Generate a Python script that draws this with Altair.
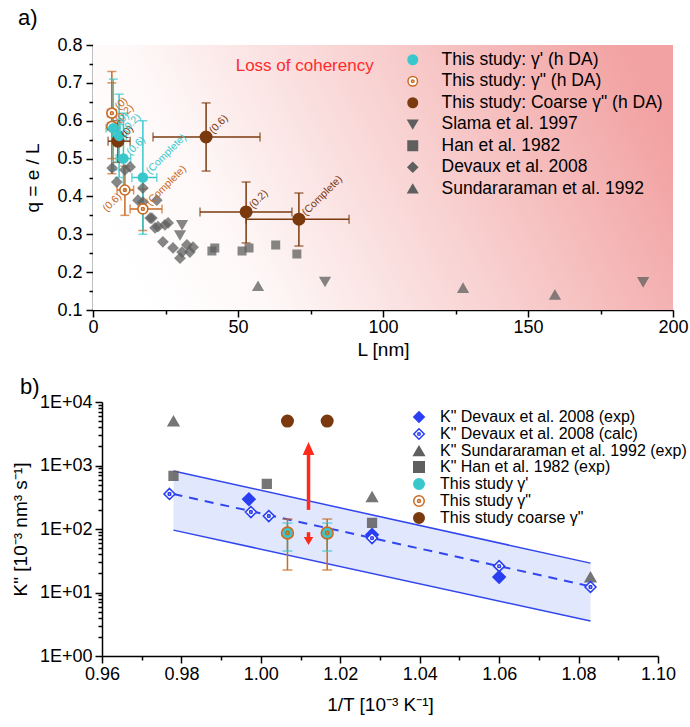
import altair as alt
import pandas as pd

FONT = "Liberation Sans"
TEAL = "#38c8cc"
ORANGE = "#c86a22"
BROWN = "#7a3a0e"
GRAY = "#5f5f5f"
BLUE = "#2a3ef2"
LINE_BLUE = "#3246ee"
RED = "#ff2a1a"

RING_DOT = "M1,0A1,1,0,1,1,-1,0A1,1,0,1,1,1,0Z M0.28,0A0.28,0.28,0,1,1,-0.28,0A0.28,0.28,0,1,1,0.28,0Z"
DIAMOND_DOT = "M0,-1L1,0L0,1L-1,0Z M0.25,0A0.25,0.25,0,1,1,-0.25,0A0.25,0.25,0,1,1,0.25,0Z"
HEAD_UP = "M0,0L-0.45,1L0.45,1Z"
HEAD_DOWN = "M0,0L-0.6,-1L0.6,-1Z"

# ---------------- Panel a data ----------------
teal_label = ["(0)", "(0.2)", "(0.6)", "(Complete)"]
teal_L = [7.0, 9.0, 10.5, 17.2]
teal_q = [0.58, 0.56, 0.50, 0.45]
teal_q_lo = [0.47, 0.45, 0.42, 0.30]
teal_q_hi = [0.71, 0.67, 0.62, 0.60]
teal_L_lo = [4.5, 6.5, 8.0, 13.4]
teal_L_hi = [9.5, 11.5, 13.0, 22.0]

orange_label = ["(0)", "(0.2)", "(0.6)", "(Complete)"]
orange_L = [6.5, 6.5, 11.0, 17.2]
orange_q = [0.62, 0.585, 0.417, 0.367]
orange_q_lo = [0.50, 0.46, 0.35, 0.31]
orange_q_hi = [0.73, 0.70, 0.48, 0.42]
orange_L_lo = [5.0, 5.0, 8.3, 12.8]
orange_L_hi = [8.0, 8.0, 14.0, 23.8]

brown_label = ["(0)", "(0.6)", "(0.2)", "(Complete)"]
brown_L = [8.6, 39.0, 52.8, 71.0]
brown_q = [0.546, 0.557, 0.359, 0.340]
brown_q_lo = [0.49, 0.467, 0.277, 0.269]
brown_q_hi = [0.60, 0.647, 0.438, 0.409]
brown_L_lo = [5.2, 20.7, 36.9, 52.8]
brown_L_hi = [12.8, 57.6, 68.6, 88.3]

slama_L = [30.7, 30.0, 80.0, 189.7]
slama_q = [0.325, 0.298, 0.175, 0.174]
han_L = [41.0, 42.0, 51.4, 53.8, 63.0, 70.3]
han_q = [0.256, 0.264, 0.256, 0.264, 0.272, 0.248]
devaux_L = [6.6, 8.2, 11.0, 12.8, 15.5, 17.2, 17.2, 19.7, 20.3, 21.4, 22.0, 22.4,
            24.8, 25.9, 24.1, 27.6, 30.0, 30.7, 32.4, 33.4, 34.5]
devaux_q = [0.475, 0.438, 0.47, 0.478, 0.39, 0.422, 0.385, 0.343, 0.343, 0.317, 0.39, 0.32,
            0.325, 0.33, 0.28, 0.264, 0.237, 0.253, 0.272, 0.253, 0.266]
sund_L = [56.9, 127.6, 159.3]
sund_q = [0.163, 0.158, 0.140]

A_X_DOMAIN = [0, 200]
A_Y_DOMAIN = [0.1, 0.8]
loss_text = ["Loss of coherency"]
loss_L = [73]
loss_q = [0.745]

# ---------------- Panel b data ----------------
dev_exp_x = [0.997, 1.028, 1.060]
dev_exp_y = [295, 81, 17.5]
dev_calc_x = [0.977, 0.9975, 1.002, 1.028, 1.060, 1.083]
dev_calc_y = [356, 185, 160, 72, 26, 12.2]
sundb_x = [0.978, 1.028, 1.083]
sundb_y = [5000, 319, 17.5]
hanb_x = [0.978, 1.0015, 1.028]
hanb_y = [684, 512, 124.5]
study_x = [1.0067, 1.0167]
gp_y = [86.5, 86.5]
gp_lo = [45, 45]
gp_hi = [124, 124]
gpp_y = [86.5, 86.5]
gpp_lo = [22.6, 22.6]
gpp_hi = [143.6, 143.6]
coarse_y = [5000, 5000]
band_x = [0.978, 1.083]
band_upper = [818, 29]
band_lower = [96, 3.55]
band_fit = [355, 12.5]
arrow_x = [1.012]
up_from, up_shaft_to, up_tip = [200], [1890], [2340]
down_from, down_shaft_to, down_tip = [89], [66], [56]

B_X_DOMAIN = [0.96, 1.10]
B_Y_DOMAIN = [1, 10000]

# ---------------- Panel a ----------------
A_NAMES = ["This study: γ' (h DA)", 'This study: γ" (h DA)', 'This study: Coarse γ" (h DA)',
           "Slama et al. 1997", "Han et al. 1982", "Devaux et al. 2008", "Sundararaman et al. 1992"]
A_SHAPES = ["circle", RING_DOT, "circle", "triangle-down", "square", "diamond", "triangle-up"]
A_FILLS = [TEAL, "white", BROWN, GRAY, GRAY, GRAY, GRAY]
A_STROKES = [TEAL, ORANGE, BROWN, GRAY, GRAY, GRAY, GRAY]
A_SIZE = dict(zip(A_NAMES, [80, 100, 130, 90, 55, 90, 90]))
A_OP = dict(zip(A_NAMES, [1, 1, 1, 0.75, 0.75, 0.75, 0.75]))


def pts(name, xs, ys, sizes, ops):
    return pd.DataFrame({"series": name, "x": xs, "y": ys, "sz": sizes[name], "op": ops[name]})


pts_a = pd.concat([
    pts(A_NAMES[3], slama_L, slama_q, A_SIZE, A_OP),
    pts(A_NAMES[4], han_L, han_q, A_SIZE, A_OP),
    pts(A_NAMES[5], devaux_L, devaux_q, A_SIZE, A_OP),
    pts(A_NAMES[6], sund_L, sund_q, A_SIZE, A_OP),
    pts(A_NAMES[2], brown_L, brown_q, A_SIZE, A_OP),
    pts(A_NAMES[1], orange_L, orange_q, A_SIZE, A_OP),
    pts(A_NAMES[0], teal_L, teal_q, A_SIZE, A_OP),
], ignore_index=True)


def errs(col, labels, xs, ys, xlo, xhi, ylo, yhi):
    return pd.DataFrame({"col": col, "label": labels, "x": xs, "y": ys, "xlo": xlo, "xhi": xhi,
                         "ylo": ylo, "yhi": yhi})


err_a = pd.concat([
    errs(BROWN, brown_label, brown_L, brown_q, brown_L_lo, brown_L_hi, brown_q_lo, brown_q_hi),
    errs(ORANGE, orange_label, orange_L, orange_q, orange_L_lo, orange_L_hi, orange_q_lo, orange_q_hi),
    errs(TEAL, teal_label, teal_L, teal_q, teal_L_lo, teal_L_hi, teal_q_lo, teal_q_hi),
], ignore_index=True)
err_a["side"] = "right"
err_a.loc[(err_a["col"] == ORANGE) & (err_a["label"] == "(0.6)"), "side"] = "left"

XS_A = alt.Scale(domain=A_X_DOMAIN, nice=False, zero=False)
YS_A = alt.Scale(domain=A_Y_DOMAIN, nice=False, zero=False)

axis_common = dict(grid=False, labelFontSize=18, titleFontSize=19, titleFontWeight="normal",
                   labelOverlap=False, labelFlush=False, domainColor="black", tickColor="black",
                   labelColor="black", titleColor="black", domainWidth=1.5, tickWidth=1.5)

AX_XA = alt.Axis(title="L [nm]", values=list(range(0, 201, 25)),
                 labelExpr="datum.value % 50 === 0 ? format(datum.value, 'd') : ''",
                 tickSize={"condition": {"test": "datum.value % 50 === 0", "value": 7}, "value": 4},
                 labelPadding=1, titlePadding=4, **axis_common)
AX_YA = alt.Axis(title="q = e / L", values=[round(0.1 + 0.05 * i, 2) for i in range(15)],
                 labelExpr="round(datum.value * 100) % 10 === 0 ? format(datum.value, '.1f') : ''",
                 tickSize={"condition": {"test": "round(datum.value * 100) % 10 === 0", "value": 7}, "value": 4},
                 labelPadding=4, titlePadding=14, **axis_common)


def XA(f):
    return alt.X(f"{f}:Q", scale=XS_A, axis=AX_XA)


def YA(f):
    return alt.Y(f"{f}:Q", scale=YS_A, axis=AX_YA)


bg_df = pd.DataFrame({"x0": [A_X_DOMAIN[0]], "x1": [A_X_DOMAIN[1]], "y0": [A_Y_DOMAIN[0]], "y1": [A_Y_DOMAIN[1]]})
grad = alt.Gradient(gradient="linear", x1=0, y1=0.62, x2=1, y2=0.38,
                    stops=[alt.GradientStop(color="#ffffff", offset=0),
                           alt.GradientStop(color="#fef8f8", offset=0.2),
                           alt.GradientStop(color="#f9d4d4", offset=0.55),
                           alt.GradientStop(color="#f2a2a2", offset=1)])
bg = alt.Chart(bg_df).mark_rect(fill=grad, strokeWidth=0).encode(
    x=XA("x0"), x2="x1", y=YA("y0"), y2="y1")

eb = alt.Chart(err_a)
col = alt.Color("col:N", scale=None)
a_vrule = eb.mark_rule(strokeWidth=1.5).encode(x=XA("x"), y=YA("ylo"), y2="yhi", color=col)
a_hrule = eb.mark_rule(strokeWidth=1.5).encode(x=XA("xlo"), x2="xhi", y=YA("y"), color=col)
a_cap_t = eb.mark_tick(orient="horizontal", size=9, thickness=1.5).encode(x=XA("x"), y=YA("yhi"), color=col)
a_cap_b = eb.mark_tick(orient="horizontal", size=9, thickness=1.5).encode(x=XA("x"), y=YA("ylo"), color=col)
a_cap_l = eb.mark_tick(orient="vertical", size=9, thickness=1.5).encode(x=XA("xlo"), y=YA("y"), color=col)
a_cap_r = eb.mark_tick(orient="vertical", size=9, thickness=1.5).encode(x=XA("xhi"), y=YA("y"), color=col)

legend_a = alt.Legend(title=None, orient="none", legendX=311, legendY=6, labelFontSize=17.5,
                      symbolSize=90, rowPadding=2.5, labelLimit=400, symbolStrokeWidth=1.5,
                      symbolOpacity=1, labelOffset=20, padding=0, labelColor="black")

a_points = alt.Chart(pts_a).mark_point(strokeWidth=1.6).encode(
    x=XA("x"), y=YA("y"),
    shape=alt.Shape("series:N", scale=alt.Scale(domain=A_NAMES, range=A_SHAPES), legend=legend_a),
    fill=alt.Fill("series:N", scale=alt.Scale(domain=A_NAMES, range=A_FILLS), legend=legend_a),
    stroke=alt.Stroke("series:N", scale=alt.Scale(domain=A_NAMES, range=A_STROKES), legend=legend_a),
    size=alt.Size("sz:Q", scale=None),
    opacity=alt.Opacity("op:Q", scale=None),
)

a_lab_r = eb.mark_text(angle=315, fontSize=10.5, align="left", baseline="middle", dx=7).encode(
    x=XA("x"), y=YA("y"), text="label:N", color=col).transform_filter(alt.datum.side == "right")
a_lab_l = eb.mark_text(angle=315, fontSize=10.5, align="right", baseline="middle", dx=-7).encode(
    x=XA("x"), y=YA("y"), text="label:N", color=col).transform_filter(alt.datum.side == "left")

loss = alt.Chart(pd.DataFrame({"x": loss_L, "y": loss_q, "t": loss_text})).mark_text(
    fontSize=17, color="#ff2b2b", align="center", baseline="middle").encode(x=XA("x"), y=YA("y"), text="t:N")

tag_a = alt.Chart(pd.DataFrame({"t": ["a)"]})).mark_text(
    fontSize=22, align="left", baseline="top", color="black").encode(
    text="t:N", x=alt.value(-75), y=alt.value(-37))

panel_a = alt.layer(bg, a_vrule, a_hrule, a_cap_t, a_cap_b, a_cap_l, a_cap_r, a_points,
                    a_lab_r, a_lab_l, loss, tag_a).properties(width=580, height=265)

# ---------------- Panel b ----------------
B_NAMES = ['K" Devaux et al. 2008 (exp)', 'K" Devaux et al. 2008 (calc)',
           'K" Sundararaman et al. 1992 (exp)', 'K" Han et al. 1982 (exp)',
           "This study γ'", 'This study γ"', 'This study coarse γ"']
B_SHAPES = ["diamond", DIAMOND_DOT, "triangle-up", "square", "circle", RING_DOT, "circle"]
B_FILLS = [BLUE, "white", GRAY, GRAY, TEAL, "transparent", BROWN]
B_STROKES = [BLUE, BLUE, GRAY, GRAY, TEAL, ORANGE, BROWN]
B_SIZE = dict(zip(B_NAMES, [150, 120, 110, 75, 85, 140, 130]))
B_OP = dict(zip(B_NAMES, [1, 1, 0.85, 0.85, 1, 1, 1]))

pts_b = pd.concat([
    pts(B_NAMES[2], sundb_x, sundb_y, B_SIZE, B_OP),
    pts(B_NAMES[3], hanb_x, hanb_y, B_SIZE, B_OP),
    pts(B_NAMES[0], dev_exp_x, dev_exp_y, B_SIZE, B_OP),
    pts(B_NAMES[1], dev_calc_x, dev_calc_y, B_SIZE, B_OP),
    pts(B_NAMES[4], study_x, gp_y, B_SIZE, B_OP),
    pts(B_NAMES[5], study_x, gpp_y, B_SIZE, B_OP),
    pts(B_NAMES[6], study_x, coarse_y, B_SIZE, B_OP),
], ignore_index=True)

XS_B = alt.Scale(domain=B_X_DOMAIN, nice=False, zero=False)
YS_B = alt.Scale(type="log", domain=B_Y_DOMAIN, nice=False)

LOG_TICKS = [m * 10 ** e for e in range(4) for m in range(1, 10)] + [10000]
AX_XB = alt.Axis(title="1/T [10⁻³ K⁻¹]", values=[round(0.96 + 0.01 * i, 2) for i in range(15)],
                 labelExpr="round(datum.value * 100) % 2 === 0 ? format(datum.value, '.2f') : ''",
                 tickSize={"condition": {"test": "round(datum.value * 100) % 2 === 0", "value": 7}, "value": 4},
                 labelPadding=2, titlePadding=12, **axis_common)
AX_YB = alt.Axis(title='K" [10⁻³ nm³ s⁻¹]', values=LOG_TICKS,
                 labelExpr="indexof([1,10,100,1000,10000], datum.value) >= 0 ? '1E+0' + format(log(datum.value) / LN10, '.0f') : ''",
                 tickSize={"condition": {"test": "indexof([1,10,100,1000,10000], datum.value) >= 0", "value": 7}, "value": 4},
                 labelPadding=3, titlePadding=9, **axis_common)


def XB(f):
    return alt.X(f"{f}:Q", scale=XS_B, axis=AX_XB)


def YB(f):
    return alt.Y(f"{f}:Q", scale=YS_B, axis=AX_YB)


band_df = pd.DataFrame({"x": band_x, "up": band_upper, "lo": band_lower, "fit": band_fit})
bb = alt.Chart(band_df)
b_area = bb.mark_area(color="#c9d3fb", opacity=0.55).encode(x=XB("x"), y=YB("up"), y2="lo")
b_up = bb.mark_line(color=LINE_BLUE, strokeWidth=1.5).encode(x=XB("x"), y=YB("up"))
b_lo = bb.mark_line(color=LINE_BLUE, strokeWidth=1.5).encode(x=XB("x"), y=YB("lo"))
b_fit = bb.mark_line(color=LINE_BLUE, strokeWidth=2, strokeDash=[9, 7]).encode(x=XB("x"), y=YB("fit"))

err_b = pd.DataFrame({"x": study_x, "gplo": gp_lo, "gphi": gp_hi, "gpplo": gpp_lo, "gpphi": gpp_hi})
ebb = alt.Chart(err_b)
b_teal_rule = ebb.mark_rule(color=TEAL, strokeWidth=1.5).encode(x=XB("x"), y=YB("gplo"), y2="gphi")
b_or_rule = ebb.mark_rule(color=ORANGE, strokeWidth=1.5).encode(x=XB("x"), y=YB("gpplo"), y2="gpphi")
b_or_cap1 = ebb.mark_tick(color=ORANGE, orient="horizontal", size=10, thickness=1.5).encode(x=XB("x"), y=YB("gpplo"))
b_or_cap2 = ebb.mark_tick(color=ORANGE, orient="horizontal", size=10, thickness=1.5).encode(x=XB("x"), y=YB("gpphi"))
b_te_cap1 = ebb.mark_tick(color=TEAL, orient="horizontal", size=10, thickness=1.5).encode(x=XB("x"), y=YB("gplo"))
b_te_cap2 = ebb.mark_tick(color=TEAL, orient="horizontal", size=10, thickness=1.5).encode(x=XB("x"), y=YB("gphi"))

arr_df = pd.DataFrame({"x": arrow_x, "uf": up_from, "ut": up_shaft_to, "utip": up_tip,
                       "df": down_from, "dt": down_shaft_to, "dtip": down_tip})
ab = alt.Chart(arr_df)
b_up_shaft = ab.mark_rule(color=RED, strokeWidth=3.5).encode(x=XB("x"), y=YB("uf"), y2="ut")
b_up_head = ab.mark_point(shape=HEAD_UP, size=676, filled=True, color=RED, opacity=1).encode(x=XB("x"), y=YB("utip"))
b_dn_shaft = ab.mark_rule(color=RED, strokeWidth=3.5).encode(x=XB("x"), y=YB("df"), y2="dt")
b_dn_head = ab.mark_point(shape=HEAD_DOWN, size=256, filled=True, color=RED, opacity=1).encode(x=XB("x"), y=YB("dtip"))

legend_b = alt.Legend(title=None, orient="none", legendX=318, legendY=7, labelFontSize=16,
                      symbolSize=110, rowPadding=-3, labelLimit=400, symbolStrokeWidth=1.5,
                      symbolOpacity=1, labelOffset=13, padding=0, labelColor="black")

b_points = alt.Chart(pts_b).mark_point(strokeWidth=1.6).encode(
    x=XB("x"), y=YB("y"),
    shape=alt.Shape("series:N", scale=alt.Scale(domain=B_NAMES, range=B_SHAPES), legend=legend_b),
    fill=alt.Fill("series:N", scale=alt.Scale(domain=B_NAMES, range=B_FILLS), legend=legend_b),
    stroke=alt.Stroke("series:N", scale=alt.Scale(domain=B_NAMES, range=B_STROKES), legend=legend_b),
    size=alt.Size("sz:Q", scale=None),
    opacity=alt.Opacity("op:Q", scale=None),
)

tag_b = alt.Chart(pd.DataFrame({"t": ["b)"]})).mark_text(
    fontSize=22, align="left", baseline="top", color="black").encode(
    text="t:N", x=alt.value(-82), y=alt.value(-25))

panel_b = alt.layer(b_area, b_up, b_lo, b_fit, b_up_shaft, b_up_head, b_dn_shaft, b_dn_head,
                    b_teal_rule, b_or_rule, b_or_cap1, b_or_cap2, b_te_cap1, b_te_cap2,
                    b_points, tag_b).properties(width=556, height=254)

spacer = alt.Chart(pd.DataFrame({"t": [""]})).mark_text().encode(
    text="t:N", x=alt.value(0), y=alt.value(0)).properties(width=1, height=254)

bottom = alt.hconcat(spacer, panel_b, spacing=8, bounds="flush")

chart = alt.vconcat(panel_a, bottom, spacing=92, bounds="flush").resolve_scale(
    x="independent", y="independent", fill="independent", stroke="independent",
    shape="independent", color="independent"
).resolve_legend(fill="independent", stroke="independent", shape="independent").properties(
    padding={"left": 10, "top": 6, "right": 0, "bottom": 0}
).configure(font=FONT).configure_view(stroke="transparent")

chart.save("out.html", embed_options={"renderer": "svg", "actions": False})
